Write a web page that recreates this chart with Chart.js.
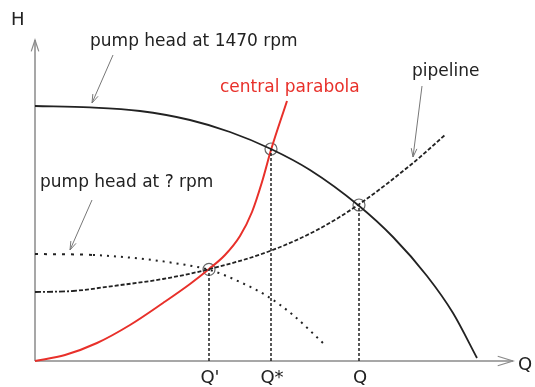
<!DOCTYPE html>
<html>
<head>
<meta charset="utf-8">
<script src="https://cdn.jsdelivr.net/npm/chart.js@4.4.1/dist/chart.umd.min.js"></script>
<style>
  html, body { margin: 0; padding: 0; background: #fff; }
</style>
</head>
<body>
<canvas id="pump-chart" width="535" height="387"></canvas>
<script>
// Flow Q (x) and head H (y), arbitrary units
const pump1470Q = [0, 13.75, 26.25, 38.75, 48.75, 59, 68.75, 80.75, 89.5, 98, 104.5, 110.5];
const pump1470H = [63.75, 63.4, 62.5, 60.25, 57.25, 53, 47.75, 39, 31, 21.25, 12, 0.75];

const pipelineQ = [0, 9.5, 19.5, 32, 43.75, 58.75, 70.5, 80.75, 94.5, 102.5];
const pipelineH = [17.25, 17.5, 18.75, 20.5, 23, 27.5, 32.75, 39, 49.5, 56.5];

const pumpReducedQ = [0, 14.5, 26.25, 36.25, 43.75, 51.25, 58, 64.5, 72];
const pumpReducedH = [26.75, 26.5, 25.6, 24.25, 22.75, 19.75, 16.25, 11.5, 4.5];

const parabolaQ = [0, 7.5, 15.5, 23.75, 32, 38.75, 43.5, 47.5, 51.25, 54.25, 56.75, 59, 63];
const parabolaH = [0, 1.5, 4.5, 9, 14.5, 19.25, 23, 26.5, 31.25, 37.25, 44.75, 52.75, 65];

// operating points Q', Q*, Q
const opQ = [43.5, 59, 81];
const opH = [22.9, 53, 39];
const opLabels = ["Q'", "Q*", "Q"];

const toXY = (qs, hs) => qs.map((q, i) => ({ x: q, y: hs[i] }));

const INK = '#222';
const RED = '#e8302a';
const GREY = '#8a8a8a';
const FONT = "'DejaVu Sans', sans-serif";

// text annotations with a pointer arrow (all in data units)
const notes = [
    { text: 'pump head at 1470 rpm', q: 13.75, h: 79.75, color: INK, from: [19.5, 76.5], to: [14.25, 64.5] },
    { text: 'central parabola', q: 46.25, h: 68.25, color: RED },
    { text: 'pipeline', q: 94.25, h: 72.25, color: INK, from: [96.75, 68.75], to: [94.5, 51] },
    { text: 'pump head at ? rpm', q: 1.25, h: 44.5, color: INK, from: [14.25, 40.25], to: [8.75, 27.75] },
];

function arrowHead(ctx, x0, y0, x1, y1, len, spread) {
    const a = Math.atan2(y1 - y0, x1 - x0);
    ctx.beginPath();
    ctx.moveTo(x1 - len * Math.cos(a - spread), y1 - len * Math.sin(a - spread));
    ctx.lineTo(x1, y1);
    ctx.lineTo(x1 - len * Math.cos(a + spread), y1 - len * Math.sin(a + spread));
    ctx.stroke();
}

const sketchPlugin = {
    id: 'sketch',
    beforeDatasetsDraw(chart) {
        const { ctx, scales: { x, y } } = chart;
        const ox = x.getPixelForValue(0), oy = y.getPixelForValue(0);
        const xEnd = x.getPixelForValue(119.5), yEnd = y.getPixelForValue(80.25);
        ctx.save();
        ctx.strokeStyle = GREY;
        ctx.lineWidth = 1.5;
        ctx.beginPath();
        ctx.moveTo(ox, oy); ctx.lineTo(xEnd, oy);
        ctx.moveTo(ox, oy); ctx.lineTo(ox, yEnd);
        ctx.stroke();
        ctx.lineWidth = 1.2;
        arrowHead(ctx, ox, oy, xEnd, oy, 16, 0.3);
        arrowHead(ctx, ox, oy, ox, yEnd, 12, 0.32);
        ctx.restore();
    },
    afterDraw(chart) {
        const { ctx, scales: { x, y } } = chart;
        ctx.save();
        ctx.textBaseline = 'middle';
        ctx.font = '17px ' + FONT;
        notes.forEach(n => {
            ctx.fillStyle = n.color;
            ctx.textAlign = 'left';
            ctx.fillText(n.text, x.getPixelForValue(n.q), y.getPixelForValue(n.h));
            if (n.from) {
                const x0 = x.getPixelForValue(n.from[0]), y0 = y.getPixelForValue(n.from[1]);
                const x1 = x.getPixelForValue(n.to[0]), y1 = y.getPixelForValue(n.to[1]);
                ctx.strokeStyle = '#777';
                ctx.lineWidth = 1;
                ctx.beginPath();
                ctx.moveTo(x0, y0); ctx.lineTo(x1, y1);
                ctx.stroke();
                arrowHead(ctx, x0, y0, x1, y1, 9, 0.32);
            }
        });

        // axis names and operating-point ticks
        ctx.fillStyle = INK;
        ctx.font = '18px ' + FONT;
        ctx.textAlign = 'left';
        ctx.fillText('H', x.getPixelForValue(-6), y.getPixelForValue(85.25));
        ctx.fillText('Q', x.getPixelForValue(120.75), y.getPixelForValue(-1));
        ctx.textAlign = 'center';
        opLabels.forEach((lab, i) => {
            ctx.fillText(lab, x.getPixelForValue(opQ[i]) + 1, y.getPixelForValue(-4.25));
        });
        ctx.restore();
    }
};

const verticals = opQ.map((q, i) => ({
    data: [{ x: q, y: 0 }, { x: q, y: opH[i] }],
    borderColor: INK,
    borderWidth: 1.5,
    borderDash: [3, 2],
    pointRadius: 0,
    showLine: true,
}));

const curve = {
    cubicInterpolationMode: 'monotone',
    pointRadius: 0,
    showLine: true,
};

new Chart(document.getElementById('pump-chart'), {
    type: 'scatter',
    data: {
        datasets: [
            ...verticals,
            {
                ...curve,
                label: 'pump head at ? rpm',
                data: toXY(pumpReducedQ, pumpReducedH),
                borderColor: INK,
                borderWidth: 2,
                segment: { borderDash: c => c.p0DataIndex === 0 ? [3, 6] : [2, 5] },
            },
            {
                ...curve,
                label: 'pipeline',
                data: toXY(pipelineQ, pipelineH),
                borderColor: INK,
                borderWidth: 1.8,
                segment: { borderDash: c => c.p0DataIndex === 0 ? [6, 2, 2, 2] : [4, 2] },
            },
            {
                ...curve,
                label: 'pump head at 1470 rpm',
                data: toXY(pump1470Q, pump1470H),
                borderColor: INK,
                borderWidth: 1.8,
            },
            {
                ...curve,
                label: 'central parabola',
                data: toXY(parabolaQ, parabolaH),
                borderColor: RED,
                borderWidth: 2,
            },
            {
                label: 'operating points',
                data: toXY(opQ, opH),
                pointStyle: 'circle',
                pointRadius: 6,
                pointBorderColor: '#666',
                pointBorderWidth: 1.2,
                pointBackgroundColor: 'rgba(0,0,0,0)',
                showLine: false,
            },
        ],
    },
    options: {
        responsive: false,
        animation: false,
        clip: 6,
        layout: { padding: { left: 35, right: 20, top: 41, bottom: 26 } },
        plugins: { legend: { display: false }, tooltip: { enabled: false } },
        scales: {
            x: { type: 'linear', min: 0, max: 120, display: false },
            y: { type: 'linear', min: 0, max: 80, display: false },
        },
    },
    plugins: [sketchPlugin],
});
</script>
</body>
</html>
